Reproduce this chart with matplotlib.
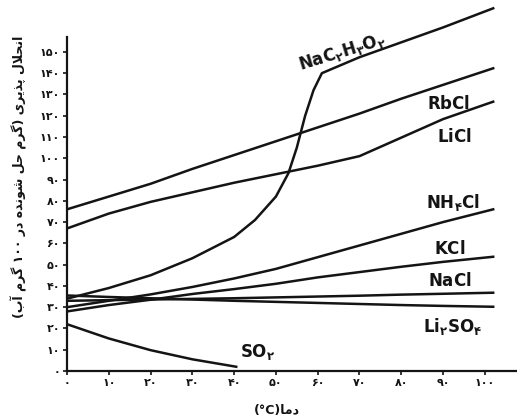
import matplotlib
matplotlib.use("Agg")
import matplotlib.pyplot as plt

plt.rcParams["mathtext.fontset"] = "dejavusans"

# temperatures (°C) and solubility (g per 100 g water)
temps = [0, 10, 20, 30, 40, 50, 60, 70, 80, 90, 102]
rbcl = [76, 82, 88, 95, 101.5, 108, 114.5, 121, 128, 134.5, 142.3]
licl = [67, 74, 79.5, 84, 88.5, 92.5, 96.5, 101, 109.7, 118.4, 126.6]
nh4cl = [30, 33, 36, 39.5, 43.5, 48, 53.5, 59, 64.5, 70, 76]
kcl = [28, 31, 33.5, 36.2, 38.5, 41, 44, 46.5, 49, 51.3, 53.7]
nacl = [33, 33.3, 33.6, 33.9, 34.2, 34.6, 35, 35.4, 35.9, 36.3, 36.8]
li2so4 = [35.5, 34.8, 34.2, 33.6, 33, 32.5, 32, 31.5, 31, 30.6, 30.2]

temps_acetate = [0, 10, 20, 30, 40, 45, 50, 53, 55, 57, 59, 61, 70, 80, 90, 102]
nac2h3o2 = [34, 39, 45, 53, 63, 71, 82, 93, 105, 120, 132, 140, 147.5, 154.5, 161.5, 170.5]

temps_so2 = [0, 10, 20, 30, 40.5]
so2 = [22, 15.3, 9.8, 5.5, 2]

fa_digits = "۰۱۲۳۴۵۶۷۸۹"
x_ticks = list(range(0, 101, 10))
y_ticks = list(range(0, 151, 10))
ylabel = "انحلال پذیری (گرم حل شونده در ۱۰۰ گرم آب)"
xlabel = "دما(°C)"

# presentation forms: isolated, final, initial, medial
FORMS = {
    "ا": ("\ufe8d", "\ufe8e", None, None),
    "آ": ("\ufe81", "\ufe82", None, None),
    "ب": ("\ufe8f", "\ufe90", "\ufe91", "\ufe92"),
    "پ": ("\ufb56", "\ufb57", "\ufb58", "\ufb59"),
    "ح": ("\ufea1", "\ufea2", "\ufea3", "\ufea4"),
    "د": ("\ufea9", "\ufeaa", None, None),
    "ذ": ("\ufeab", "\ufeac", None, None),
    "ر": ("\ufead", "\ufeae", None, None),
    "ش": ("\ufeb5", "\ufeb6", "\ufeb7", "\ufeb8"),
    "گ": ("\ufb92", "\ufb93", "\ufb94", "\ufb95"),
    "ل": ("\ufedd", "\ufede", "\ufedf", "\ufee0"),
    "م": ("\ufee1", "\ufee2", "\ufee3", "\ufee4"),
    "ن": ("\ufee5", "\ufee6", "\ufee7", "\ufee8"),
    "ه": ("\ufee9", "\ufeea", "\ufeeb", "\ufeec"),
    "و": ("\ufeed", "\ufeee", None, None),
    "ی": ("\ufbfc", "\ufbfd", "\ufbfe", "\ufbff"),
    "لا": ("\ufefb", "\ufefc", None, None),
    "لآ": ("\ufef5", "\ufef6", None, None),
}


def fa(n):
    return "".join(fa_digits[int(c)] for c in str(n))


def shape_rtl(text):
    # matplotlib has no arabic shaping, so join letters by hand and reverse
    units = []
    i = 0
    while i < len(text):
        if text[i] == "ل" and i + 1 < len(text) and text[i + 1] in "اآ":
            units.append(text[i:i + 2])
            i += 2
        else:
            units.append(text[i])
            i += 1
    shaped = []
    for k, u in enumerate(units):
        if u not in FORMS:
            shaped.append(u)
            continue
        prev = units[k - 1] if k > 0 else None
        nxt = units[k + 1] if k + 1 < len(units) else None
        jp = prev in FORMS and FORMS[prev][2] is not None
        jn = FORMS[u][2] is not None and nxt in FORMS
        shaped.append(FORMS[u][{(0, 0): 0, (1, 0): 1, (0, 1): 2, (1, 1): 3}[(int(jp), int(jn))]])
    runs = []
    for ch in shaped:
        ltr = (ch.isascii() and ch.isalnum()) or ch in fa_digits + "°"
        if ltr and runs and runs[-1][0]:
            runs[-1][1] += ch
        else:
            runs.append([ltr, ch])
    mirror = {"(": ")", ")": "("}
    return "".join(mirror.get(s, s) for _, s in reversed(runs))


fig = plt.figure(figsize=(5.17, 4.19), dpi=100)
ax = fig.add_axes([67 / 517, 48 / 419, 450 / 517, 371 / 419])

lc = "#141414"
lw = 1.8
ax.plot(temps_acetate, nac2h3o2, color=lc, lw=lw)
for series in (rbcl, licl, nh4cl, kcl, nacl, li2so4):
    ax.plot(temps, series, color=lc, lw=lw)
ax.plot(temps_so2, so2, color=lc, lw=lw)

ax.set_xlim(0, 107.7)
ax.set_ylim(0, 174.4)
ax.spines["top"].set_visible(False)
ax.spines["right"].set_visible(False)
ax.spines["left"].set_bounds(0, 157)
for s in ("left", "bottom"):
    ax.spines[s].set_linewidth(1.6)
    ax.spines[s].set_color(lc)

ax.set_xticks(x_ticks)
ax.set_xticklabels([fa(t) for t in x_ticks])
ax.set_yticks(y_ticks)
ax.set_yticklabels([fa(t) for t in y_ticks])
ax.tick_params(direction="out", length=3, width=1.2, labelsize=8, pad=2, colors=lc)
for lab in ax.get_xticklabels() + ax.get_yticklabels():
    lab.set_fontweight("bold")

lab_kw = dict(fontsize=12, color=lc, ha="center", va="center")
ax.text(65.8, 150, r"$\mathbf{NaC_{۲}H_{۳}O_{۲}}$", rotation=17, **lab_kw)
ax.text(91.4, 125.5, r"$\mathbf{RbCl}$", **lab_kw)
ax.text(92.8, 110, r"$\mathbf{LiCl}$", **lab_kw)
ax.text(92.3, 79, r"$\mathbf{NH_{۴}Cl}$", **lab_kw)
ax.text(91.6, 57.4, r"$\mathbf{KCl}$", **lab_kw)
ax.text(91.6, 42.3, r"$\mathbf{NaCl}$", **lab_kw)
ax.text(92.3, 20.7, r"$\mathbf{Li_{۲}SO_{۴}}$", **lab_kw)
ax.text(45.7, 9, r"$\mathbf{SO_{۲}}$", **lab_kw)

fig.text(19 / 517, 1 - 177 / 419, shape_rtl(ylabel), rotation=90,
         ha="center", va="center", fontsize=9, fontweight="bold", color=lc)
fig.text(277 / 517, 1 - 410 / 419, shape_rtl(xlabel),
         ha="center", va="center", fontsize=9, fontweight="bold", color=lc)

fig.savefig("out.png", dpi=100, facecolor="white")
